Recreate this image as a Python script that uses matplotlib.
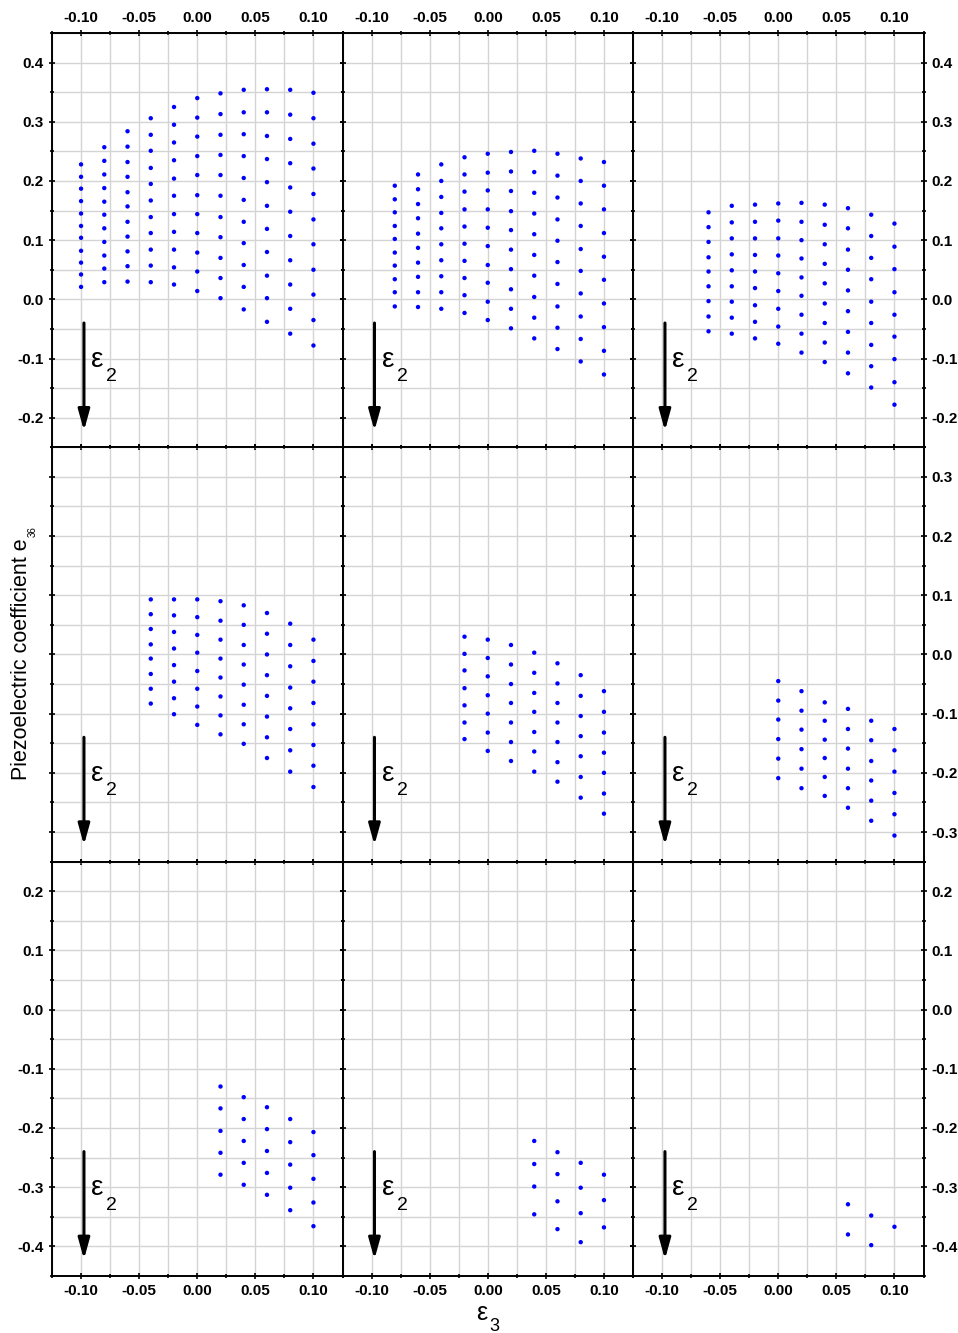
import matplotlib
matplotlib.use("Agg")
import matplotlib.pyplot as plt
from matplotlib.ticker import MultipleLocator, FormatStrFormatter

plt.rcParams["font.family"] = ["Liberation Sans", "DejaVu Sans"]
plt.rcParams["font.weight"] = "bold"
plt.rcParams["axes.unicode_minus"] = False

# eps3 columns; each panel maps eps3 -> e36 values (eps2 increasing downward)
EPS3 = [-0.10, -0.08, -0.06, -0.04, -0.02, 0.00, 0.02, 0.04, 0.06, 0.08, 0.10]

E36_A = {
    -0.10: [0.228, 0.207, 0.187, 0.166, 0.145, 0.124, 0.104, 0.082, 0.062, 0.042, 0.021],
    -0.08: [0.257, 0.234, 0.211, 0.188, 0.165, 0.143, 0.120, 0.097, 0.074, 0.052, 0.029],
    -0.06: [0.284, 0.258, 0.232, 0.207, 0.181, 0.157, 0.131, 0.106, 0.081, 0.056, 0.030],
    -0.04: [0.306, 0.278, 0.251, 0.222, 0.195, 0.167, 0.139, 0.112, 0.084, 0.057, 0.029],
    -0.02: [0.325, 0.295, 0.265, 0.235, 0.204, 0.175, 0.144, 0.114, 0.084, 0.054, 0.025],
    0.00: [0.340, 0.307, 0.275, 0.242, 0.210, 0.176, 0.144, 0.112, 0.079, 0.047, 0.014],
    0.02: [0.348, 0.313, 0.278, 0.244, 0.210, 0.175, 0.139, 0.105, 0.070, 0.036, 0.002],
    0.04: [0.354, 0.316, 0.279, 0.242, 0.205, 0.168, 0.131, 0.095, 0.058, 0.021, -0.017],
    0.06: [0.355, 0.316, 0.276, 0.237, 0.198, 0.158, 0.119, 0.080, 0.040, 0.002, -0.038],
    0.08: [0.354, 0.312, 0.271, 0.230, 0.189, 0.148, 0.107, 0.066, 0.025, -0.016, -0.058],
    0.10: [0.349, 0.306, 0.263, 0.221, 0.178, 0.135, 0.093, 0.050, 0.008, -0.035, -0.078],
}
E36_B = {
    -0.08: [0.192, 0.169, 0.147, 0.124, 0.102, 0.079, 0.057, 0.034, 0.012, -0.012],
    -0.06: [0.211, 0.186, 0.161, 0.137, 0.111, 0.087, 0.062, 0.038, 0.012, -0.013],
    -0.04: [0.228, 0.200, 0.173, 0.146, 0.120, 0.093, 0.066, 0.039, 0.012, -0.016],
    -0.02: [0.240, 0.211, 0.182, 0.152, 0.123, 0.094, 0.065, 0.036, 0.007, -0.023],
    0.00: [0.246, 0.214, 0.184, 0.152, 0.121, 0.090, 0.058, 0.028, -0.004, -0.035],
    0.02: [0.249, 0.216, 0.183, 0.149, 0.117, 0.084, 0.051, 0.017, -0.016, -0.049],
    0.04: [0.251, 0.215, 0.180, 0.145, 0.110, 0.075, 0.040, 0.004, -0.031, -0.066],
    0.06: [0.246, 0.209, 0.172, 0.135, 0.099, 0.063, 0.026, -0.012, -0.048, -0.084],
    0.08: [0.238, 0.200, 0.162, 0.124, 0.085, 0.048, 0.010, -0.029, -0.067, -0.105],
    0.10: [0.232, 0.192, 0.152, 0.112, 0.072, 0.033, -0.007, -0.047, -0.087, -0.127],
}
E36_C = {
    -0.06: [0.147, 0.122, 0.097, 0.071, 0.047, 0.022, -0.003, -0.029, -0.054],
    -0.04: [0.158, 0.130, 0.103, 0.076, 0.049, 0.022, -0.004, -0.031, -0.058],
    -0.02: [0.160, 0.131, 0.103, 0.075, 0.047, 0.019, -0.010, -0.038, -0.066],
    0.00: [0.162, 0.133, 0.103, 0.074, 0.044, 0.014, -0.016, -0.046, -0.075],
    0.02: [0.163, 0.131, 0.100, 0.069, 0.037, 0.006, -0.026, -0.058, -0.090],
    0.04: [0.160, 0.126, 0.093, 0.060, 0.027, -0.007, -0.040, -0.073, -0.106],
    0.06: [0.154, 0.120, 0.084, 0.050, 0.015, -0.020, -0.055, -0.090, -0.125],
    0.08: [0.143, 0.107, 0.070, 0.034, -0.004, -0.040, -0.077, -0.113, -0.149],
    0.10: [0.128, 0.089, 0.051, 0.012, -0.026, -0.063, -0.101, -0.140, -0.178],
}
E36_D = {
    -0.04: [0.093, 0.068, 0.043, 0.017, -0.007, -0.033, -0.058, -0.083],
    -0.02: [0.093, 0.066, 0.038, 0.010, -0.018, -0.046, -0.074, -0.101],
    0.00: [0.093, 0.063, 0.033, 0.003, -0.028, -0.058, -0.088, -0.119],
    0.02: [0.090, 0.057, 0.025, -0.007, -0.039, -0.071, -0.103, -0.135],
    0.04: [0.083, 0.050, 0.016, -0.017, -0.051, -0.085, -0.118, -0.151],
    0.06: [0.070, 0.035, 0.000, -0.035, -0.070, -0.105, -0.140, -0.175],
    0.08: [0.052, 0.016, -0.020, -0.056, -0.091, -0.126, -0.162, -0.198],
    0.10: [0.025, -0.011, -0.046, -0.082, -0.118, -0.153, -0.188, -0.224],
}
E36_E = {
    -0.02: [0.030, 0.001, -0.027, -0.057, -0.086, -0.115, -0.143],
    0.00: [0.025, -0.006, -0.037, -0.069, -0.100, -0.132, -0.163],
    0.02: [0.016, -0.017, -0.050, -0.082, -0.115, -0.148, -0.180],
    0.04: [0.003, -0.031, -0.065, -0.097, -0.131, -0.164, -0.198],
    0.06: [-0.015, -0.049, -0.082, -0.115, -0.148, -0.182, -0.215],
    0.08: [-0.035, -0.070, -0.104, -0.138, -0.172, -0.207, -0.242],
    0.10: [-0.062, -0.097, -0.132, -0.166, -0.200, -0.235, -0.269],
}
E36_F = {
    0.00: [-0.045, -0.078, -0.110, -0.143, -0.176, -0.209],
    0.02: [-0.062, -0.095, -0.127, -0.160, -0.193, -0.226],
    0.04: [-0.081, -0.112, -0.144, -0.175, -0.207, -0.239],
    0.06: [-0.092, -0.126, -0.159, -0.193, -0.226, -0.259],
    0.08: [-0.112, -0.145, -0.180, -0.213, -0.247, -0.281],
    0.10: [-0.126, -0.162, -0.198, -0.234, -0.270, -0.306],
}
E36_G = {
    0.02: [-0.130, -0.167, -0.205, -0.242, -0.279],
    0.04: [-0.148, -0.185, -0.222, -0.259, -0.296],
    0.06: [-0.165, -0.202, -0.239, -0.276, -0.313],
    0.08: [-0.185, -0.224, -0.262, -0.301, -0.339],
    0.10: [-0.207, -0.246, -0.286, -0.326, -0.366],
}
E36_H = {
    0.04: [-0.222, -0.261, -0.299, -0.346],
    0.06: [-0.241, -0.278, -0.324, -0.371],
    0.08: [-0.259, -0.301, -0.344, -0.393],
    0.10: [-0.279, -0.322, -0.368],
}
E36_I = {
    0.06: [-0.329, -0.380],
    0.08: [-0.348, -0.398],
    0.10: [-0.367],
}

PANELS = [[E36_A, E36_B, E36_C],
          [E36_D, E36_E, E36_F],
          [E36_G, E36_H, E36_I]]
ROW_YLIM = [(-0.25, 0.45), (-0.35, 0.35), (-0.45, 0.25)]
XLIM = (-0.125, 0.125)

W, H = 958, 1333
COL_X = [52, 342.5, 633]
COL_W = 290.5
ROW_Y = [33, 447.3, 861.6]
ROW_H = 414.3

fig = plt.figure(figsize=(W / 100, H / 100), dpi=100)

for r in range(3):
    for c in range(3):
        ax = fig.add_axes([COL_X[c] / W, 1 - (ROW_Y[r] + ROW_H) / H,
                           COL_W / W, ROW_H / H])
        data = PANELS[r][c]
        xs, ys = [], []
        for e3, vals in data.items():
            xs += [e3] * len(vals)
            ys += vals
        ax.scatter(xs, ys, s=10, c="#0000ff", edgecolors="none", zorder=3)

        ax.set_xlim(*XLIM)
        ax.set_ylim(*ROW_YLIM[r])
        ax.xaxis.set_major_locator(MultipleLocator(0.05))
        ax.xaxis.set_minor_locator(MultipleLocator(0.025))
        ax.yaxis.set_major_locator(MultipleLocator(0.1))
        ax.yaxis.set_minor_locator(MultipleLocator(0.05))
        ax.xaxis.set_major_formatter(FormatStrFormatter("%.2f"))
        ax.yaxis.set_major_formatter(FormatStrFormatter("%.1f"))
        ax.set_axisbelow(True)
        ax.grid(True, which="both", color="#d4d4d4", lw=1.0)
        for sp in ax.spines.values():
            sp.set_linewidth(1.4)
        ax.tick_params(which="both", direction="inout", top=True, right=True,
                       labeltop=(r == 0), labelbottom=(r == 2),
                       labelleft=(c == 0 and r != 1), labelright=(c == 2),
                       labelsize=11, width=1.2)
        ax.tick_params(which="major", length=5, pad=3.5)
        ax.tick_params(which="minor", length=3)

        ax.annotate("", xy=(0.11, 0.04), xytext=(0.11, 0.30),
                    xycoords="axes fraction", textcoords="axes fraction",
                    arrowprops=dict(arrowstyle="-|>,head_length=0.9,head_width=0.25",
                                    color="black", lw=2.2, shrinkA=0, shrinkB=0,
                                    mutation_scale=14))
        ax.text(0.135, 0.195, "ε", transform=ax.transAxes, fontsize=20,
                fontweight="normal", va="baseline")
        ax.text(0.187, 0.16, "2", transform=ax.transAxes, fontsize=14,
                fontweight="normal", va="baseline")

fig.text(27 / W, 1 - 538 / H, "Piezoelectric coefficient e", rotation=90,
         rotation_mode="anchor", ha="right", va="baseline", fontsize=15.5,
         fontweight="normal")
fig.text(28 / W, 1 - 537 / H, "36", rotation=90, rotation_mode="anchor",
         ha="left", va="top", fontsize=7, fontweight="normal")

fig.text(476 / W, 1 - 1320 / H, "ε", ha="left", va="baseline", fontsize=18,
         fontweight="normal")
fig.text(489 / W, 1 - 1331 / H, "3", ha="left", va="baseline", fontsize=13,
         fontweight="normal")

fig.savefig("out.png", dpi=100)
